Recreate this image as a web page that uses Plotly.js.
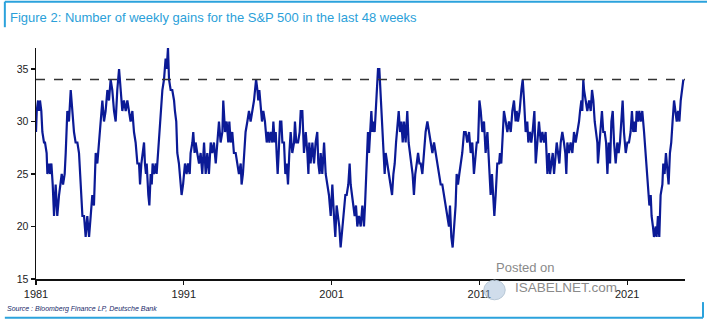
<!DOCTYPE html>
<html>
<head>
<meta charset="utf-8">
<script src="https://cdn.plot.ly/plotly-3.0.1.min.js"></script>
<style>html,body{margin:0;padding:0;background:#fff;}#chart{width:707px;height:328px;}</style>
</head>
<body>
<div id="chart"></div>
<script>
// Decimal year of each reading
const years = [
1981.00,1981.05,1981.14,1981.20,1981.27,1981.36,1981.43,1981.54,1981.61,1981.72,1981.77,1981.88,1981.95,
1982.04,1982.13,1982.22,1982.33,1982.44,1982.56,1982.67,1982.74,1982.83,1982.94,
1983.01,1983.12,1983.23,1983.35,1983.46,1983.57,1983.68,1983.80,1983.91,
1984.02,1984.14,1984.25,1984.36,1984.47,1984.59,1984.70,1984.81,1984.92,
1985.04,1985.15,1985.26,1985.38,1985.49,1985.60,1985.71,1985.83,1985.94,
1986.05,1986.16,1986.28,1986.39,1986.50,1986.62,1986.73,1986.84,1986.95,
1987.07,1987.18,1987.29,1987.40,1987.52,1987.63,1987.74,1987.86,1987.97,
1988.04,1988.13,1988.22,1988.31,1988.37,1988.44,1988.49,1988.53,1988.60,1988.67,1988.76,1988.83,1988.89,1988.98,
1989.10,1989.16,1989.25,1989.34,1989.43,1989.55,1989.66,1989.77,1989.84,1989.93,
1990.00,1990.11,1990.22,1990.34,1990.40,1990.49,1990.56,1990.67,1990.79,1990.85,1990.95,
1991.01,1991.08,1991.19,1991.28,1991.40,1991.46,1991.58,1991.64,1991.73,1991.80,1991.91,
1992.03,1992.14,1992.25,1992.37,1992.48,1992.59,1992.70,1992.82,1992.93,
1993.04,1993.16,1993.27,1993.38,1993.49,1993.61,1993.67,1993.79,1993.90,
1994.01,1994.08,1994.17,1994.28,1994.39,1994.51,1994.62,1994.73,1994.85,1994.91,
1995.00,1995.07,1995.18,1995.30,1995.41,1995.52,1995.64,1995.75,1995.82,1995.89,1995.98,
1996.04,1996.11,1996.20,1996.29,1996.38,1996.49,1996.61,1996.70,1996.79,1996.88,1996.99,
1997.06,1997.15,1997.22,1997.28,1997.35,1997.42,1997.51,1997.60,1997.67,1997.78,1997.87,1997.96,
1998.05,1998.14,1998.23,1998.34,1998.46,1998.52,1998.61,1998.73,1998.84,1998.91,
1999.02,1999.13,1999.25,1999.36,1999.43,1999.49,1999.58,1999.70,1999.81,1999.92,
2000.03,2000.10,2000.19,2000.26,2000.37,2000.49,2000.60,2000.71,2000.82,2000.94,
2001.05,2001.16,2001.25,2001.34,2001.43,2001.52,2001.61,2001.73,2001.84,2001.93,
2002.02,2002.13,2002.22,2002.29,2002.38,2002.47,2002.56,2002.65,2002.74,2002.85,2002.97,
2003.08,2003.19,2003.26,2003.33,2003.37,2003.46,2003.53,2003.60,2003.69,2003.76,2003.82,2003.91,2003.98,
2004.05,2004.14,2004.23,2004.30,2004.36,2004.43,2004.50,2004.59,2004.66,2004.77,2004.88,
2005.00,2005.09,2005.18,2005.27,2005.36,2005.45,2005.54,2005.63,2005.72,2005.81,2005.90,
2006.01,2006.12,2006.21,2006.30,2006.39,2006.48,2006.57,2006.66,2006.76,2006.85,2006.94,
2007.03,2007.14,2007.25,2007.36,2007.48,2007.59,2007.70,2007.82,2007.93,
2008.04,2008.15,2008.27,2008.38,2008.49,2008.60,2008.72,2008.83,2008.94,
2009.01,2009.10,2009.19,2009.28,2009.39,2009.46,2009.55,2009.64,2009.73,2009.84,2009.96,
2010.07,2010.18,2010.30,2010.41,2010.52,2010.63,2010.73,2010.82,2010.91,
2011.00,2011.09,2011.20,2011.31,2011.42,2011.54,2011.65,2011.76,2011.85,2011.94,
2012.01,2012.10,2012.21,2012.33,2012.39,2012.48,2012.57,2012.66,2012.78,2012.89,
2013.00,2013.12,2013.23,2013.34,2013.45,2013.52,2013.61,2013.72,2013.84,2013.93,
2014.02,2014.13,2014.24,2014.31,2014.42,2014.51,2014.60,2014.72,2014.81,2014.92,
2015.03,2015.15,2015.26,2015.37,2015.48,2015.60,2015.71,2015.78,2015.87,2015.96,
2016.05,2016.14,2016.23,2016.32,2016.41,2016.50,2016.61,2016.72,2016.81,2016.88,2016.95,
2017.06,2017.17,2017.29,2017.40,2017.51,2017.63,2017.74,2017.81,2017.90,2017.96,
2018.03,2018.08,2018.19,2018.30,2018.42,2018.53,2018.62,2018.71,2018.80,2018.89,2018.98,
2019.02,2019.11,2019.20,2019.29,2019.38,2019.48,2019.57,2019.66,2019.75,2019.84,2019.93,
2020.02,2020.11,2020.22,2020.33,2020.42,2020.51,2020.60,2020.69,2020.78,2020.90,
2021.01,2021.12,2021.23,2021.32,2021.41,2021.50,2021.57,2021.64,2021.73,2021.82,2021.91,
2022.02,2022.14,2022.23,2022.32,2022.41,2022.50,2022.59,2022.65,2022.74,2022.81,2022.93,2022.99,
2023.08,2023.17,2023.26,2023.38,2023.44,2023.53,2023.62,2023.71,2023.80,2023.89,2023.98,
2024.07,2024.17,2024.26,2024.35,2024.44,2024.53,2024.62,2024.71,2024.80
];

// Number of weekly gains in the last 48 weeks
const gains = [
29,31,32,31,32,31,29,28,28,27,25,26,25,
26,24,21,24,21,23,24,25,24,25,
27,31,30,33,31,29,28,28,27,
24,21,21,19,21,19,21,23,22,
27,26,28,30,32,30,31,33,32,
34,33,31,30,33,35,33,31,32,
31,32,31,30,31,29,28,26,26,
24,26,27,28,26,25,26,24,23,22,25,24,26,25,
26,25,27,28,30,33,34,36,35,37,
34,33,33,32,31,30,27,26,24,23,24,
25,26,25,26,25,27,28,29,27,28,27,
26,27,25,28,25,27,25,28,27,
28,26,28,30,28,29,32,29,30,
28,30,28,29,27,27,26,25,26,24,
25,27,29,30,31,30,31,32,33,34,33,
32,33,31,30,31,30,28,29,28,29,28,
30,28,29,27,25,27,30,30,28,28,25,26,
24,27,29,27,28,30,28,28,29,31,
31,27,29,27,25,28,26,28,26,28,
29,26,25,27,25,28,25,24,23,21,
24,21,19,22,21,20,18,20,21,23,
23,24,26,24,23,22,21,22,20,21,20,
22,20,22,24,26,29,27,29,31,29,30,29,31,
33,35,35,33,31,29,28,25,27,26,25,
24,23,25,26,28,30,31,29,30,28,30,
28,31,28,27,26,25,23,25,26,27,26,
26,25,27,29,30,29,28,27,28,
27,26,25,24,24,23,22,21,20,
22,19,18,20,22,25,24,25,26,27,29,
29,28,29,27,28,25,27,28,28,
32,31,29,30,27,29,26,23,25,22,
21,23,26,26,27,26,29,31,30,29,
30,29,31,32,30,31,30,31,33,34,
32,29,30,28,29,28,29,31,26,28,
30,28,29,28,29,25,27,25,26,27,
25,27,28,27,26,28,29,28,27,25,28,
27,28,27,29,28,29,30,31,32,31,
34,33,32,31,32,31,33,32,30,29,28,
26,28,30,31,29,29,28,25,28,26,30,
31,28,26,28,27,28,30,32,29,27,
28,28,29,31,29,30,29,31,30,31,30,
31,29,27,25,23,22,23,21,20,19,20,19,
21,19,23,24,26,25,27,25,24,27,28,
30,32,31,30,31,30,32,33,34
];

const tickYears = [1981, 1991, 2001, 2011, 2021];
const tickLabels = ['1981', '1991', '2001', '2011', '2021'];
const yTicks = [15, 20, 25, 30, 35];
const threshold = 34;

const frame = '#2ba2dc';

const trace = {
  x: years, y: gains, type: 'scatter', mode: 'lines',
  line: {color: '#0b1a96', width: 2.2},
  hoverinfo: 'skip', showlegend: false
};

const layout = {
  width: 707, height: 328,
  margin: {l: 36, r: 22, t: 48, b: 49, pad: 0},
  paper_bgcolor: '#ffffff', plot_bgcolor: '#ffffff',
  showlegend: false,
  title: {
    text: 'Figure 2: Number of weekly gains for the S&P 500 in the last 48 weeks',
    x: 10 / 707, xref: 'container', xanchor: 'left',
    y: 1 - 17 / 328, yref: 'container', yanchor: 'middle',
    font: {family: 'Liberation Sans, Arial, sans-serif', size: 13, color: '#2b9fd9'}
  },
  xaxis: {
    type: 'linear', range: [1981, 2024.91],
    tickmode: 'array', tickvals: tickYears, ticktext: tickLabels,
    showline: true, linecolor: '#111', linewidth: 1.5,
    ticks: 'outside', ticklen: 4, tickwidth: 1.2, tickcolor: '#111',
    showgrid: false, zeroline: false,
    tickfont: {family: 'Liberation Sans Narrow, Liberation Sans, Arial', size: 11, color: '#222'}
  },
  yaxis: {
    range: [15, 37],
    tickmode: 'array', tickvals: yTicks,
    showline: true, linecolor: '#111', linewidth: 1.5,
    ticks: 'outside', ticklen: 4, tickwidth: 1.2, tickcolor: '#111',
    showgrid: false, zeroline: false,
    tickfont: {family: 'Liberation Sans, Arial', size: 10.5, color: '#222'}
  },
  shapes: [
    {type: 'line', xref: 'paper', yref: 'y', x0: 0, x1: 1, y0: threshold, y1: threshold,
     line: {color: '#333', width: 1.5, dash: 'dash'}},
    {type: 'line', xref: 'paper', yref: 'paper', x0: -0.048, x1: 1.034, y0: 1.2004, y1: 1.2004,
     line: {color: frame, width: 2}},
    {type: 'line', xref: 'paper', yref: 'paper', x0: -0.048, x1: -0.048, y0: 1.2004, y1: 1.09,
     line: {color: frame, width: 2}},
    {type: 'line', xref: 'paper', yref: 'paper', x0: -0.048, x1: 1.0277, y0: -0.1675, y1: -0.1675,
     line: {color: frame, width: 2}},
    {type: 'line', xref: 'paper', yref: 'paper', x0: 1.0277, x1: 1.0277, y0: -0.1675, y1: -0.10,
     line: {color: frame, width: 2}},
    {type: 'circle', xref: 'paper', yref: 'paper', x0: 0.69, x1: 0.723, y0: -0.09, y1: -0.005,
     line: {color: '#b8c8d6', width: 1}, fillcolor: 'rgba(150,180,210,0.45)'}
  ],
  annotations: [
    {text: '<i>Source : Bloomberg Finance LP, Deutsche Bank</i>', xref: 'paper', yref: 'paper',
     x: -0.047, y: -0.128, xanchor: 'left', yanchor: 'middle', showarrow: false,
     font: {family: 'Liberation Sans Narrow, Liberation Sans, Arial', size: 7, color: '#1a2a6a'}},
    {text: 'Posted on', xref: 'paper', yref: 'paper', x: 0.755, y: 0.05,
     xanchor: 'center', yanchor: 'middle', showarrow: false,
     font: {family: 'Liberation Sans, Arial', size: 13, color: '#8a8a8a'}},
    {text: 'ISABELNET.com', xref: 'paper', yref: 'paper', x: 0.816, y: -0.038,
     xanchor: 'center', yanchor: 'middle', showarrow: false,
     font: {family: 'Liberation Sans, Arial', size: 13.5, color: '#8a8a8a'}}
  ]
};

Plotly.newPlot('chart', [trace], layout, {displayModeBar: false, staticPlot: true});
</script>
</body>
</html>
